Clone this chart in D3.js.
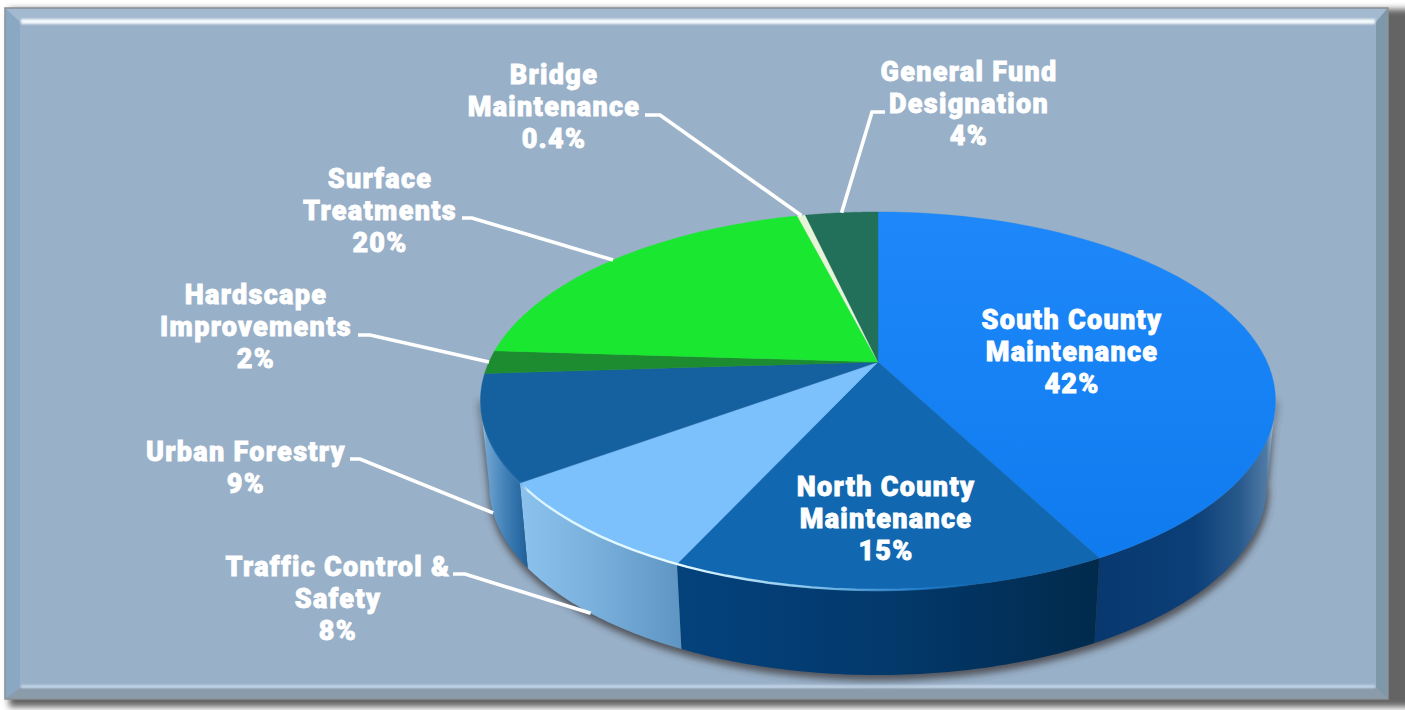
<!DOCTYPE html>
<html><head><meta charset="utf-8">
<script src="https://cdnjs.cloudflare.com/ajax/libs/d3/7.8.5/d3.min.js"></script>
<style>html,body{margin:0;padding:0;background:#fff;overflow:hidden}svg{display:block}
text{font-family:Roboto,sans-serif;font-weight:900;fill:#fff;stroke:#fff;stroke-width:.8px;font-size:27px;text-anchor:middle;letter-spacing:1.3px}</style>
</head><body><svg id="c" width="1405" height="710"></svg>
<script>
// data
const categories=["South County Maintenance","North County Maintenance","Traffic Control & Safety","Urban Forestry","Hardscape Improvements","Surface Treatments","Bridge Maintenance","General Fund Designation"];
const values=[42.3,14.6,8.1,9,2,20,0.4,3.6];
const percentLabels=["42%","15%","8%","9%","2%","20%","0.4%","4%"];
const labelLines=[["South County","Maintenance"],["North County","Maintenance"],["Traffic Control &","Safety"],["Urban Forestry"],["Hardscape","Improvements"],["Surface","Treatments"],["Bridge","Maintenance"],["General Fund","Designation"]];
const topColors=["#1583f6","#1268b0","#7cc0fc","#1561a0","#1d8c30","#1ae830","#e8f4d8","#22705a"];
const wallStops=[
 [[0,"#08386e"],[.55,"#0c3f78"],[.8,"#28598c"],[.95,"#4f7aa6"],[1,"#b9c9d8"]],
 [[0,"#04427c"],[.5,"#03396c"],[1,"#012a4c"]],
 [[0,"#8cc2ee"],[.5,"#78aeda"],[1,"#5f95c2"]],
 [[0,"#c9d6e0"],[.12,"#6fa4d0"],[.55,"#3f7fb6"],[1,"#1f5f9a"]],
 null,null,null,null];
// layout
const labelPos=[[1072,329],[886,496],[338,576],[246,461],[256,304],[380,188],[554,84],[969,81]];
const leaderStart=[null,null,[453,574,465],[350,459,360],[358,335,370],[462,218,472],[645,115,660],[885,112,872]];
const leaderOnWall=[false,false,true,true,false,false,false,false];

const svg=d3.select("#c"),defs=svg.append("defs");
const cx=878,apexY=362,S=389,B=106.3,C=-0.2063,depth=85,shrink=.978;
const top3=t=>{const u=Math.sin(t),v=-Math.cos(t),d=1+C*v;return [cx+S*u/d,(apexY+B*v)/d]};
const bot3=t=>{const p=top3(t);return [cx+(p[0]-cx)*shrink,p[1]+depth]};
const tR=Math.acos(.2063*-1),tL=2*Math.PI-tR;
const arcs=d3.pie().sort(null).startAngle(0).endAngle(2*Math.PI)(values);
const sample=(a,b,f)=>d3.range(0,61).map(i=>f(a+(b-a)*i/60));
const line=d3.line();

// frame
const addBlur=(id,sd)=>defs.append("filter").attr("id",id).attr("x","-5%").attr("y","-50%").attr("width","110%").attr("height","200%").append("feGaussianBlur").attr("stdDeviation",sd);
addBlur("blur6",3);addBlur("blur3",3.5);addBlur("blur1",1.3);
const fr=svg.append("g");
fr.append("rect").attr("x",9).attr("y",9).attr("width",1420).attr("height",698).attr("fill","#4a4a4a").attr("opacity",.85).attr("filter","url(#blur6)");
fr.append("rect").attr("x",5).attr("y",8).attr("width",1383).attr("height",691).attr("fill","#98b0c8").attr("stroke","#888e94").attr("stroke-width",1.5);
const x0=6,y0=9,x1=1387,y1=698,ix0=20,iy0=22,ix1=1376,iy1=688;
fr.append("polygon").attr("points",[[x0,y0],[x1,y0],[ix1,iy0],[ix0,iy0]].join(" ")).attr("fill","#a2b9cf");
fr.append("polygon").attr("points",[[x0,y0],[ix0,iy0],[ix0,iy1],[x0,y1]].join(" ")).attr("fill","#8aa8c3");
fr.append("polygon").attr("points",[[x1,y0],[x1,y1],[ix1,iy1],[ix1,iy0]].join(" ")).attr("fill","#7e97a9");
fr.append("polygon").attr("points",[[x0,y1],[ix0,iy1],[ix1,iy1],[x1,y1]].join(" ")).attr("fill","#8a9caa");
fr.append("rect").attr("x",21).attr("y",19).attr("width",1354).attr("height",5).attr("fill","#f4f9fc").attr("filter","url(#blur1)");
fr.append("rect").attr("x",21).attr("y",685).attr("width",1354).attr("height",3).attr("fill","#c4d6e6").attr("filter","url(#blur1)");

// shadow under pie
const pie=svg.append("g");
const front=sample(tR,tL,bot3);
pie.append("path").attr("d",line(front.map(p=>[p[0]+1,p[1]+4]).concat(sample(tL,tR,top3))))
  .attr("fill","#3a3434").attr("stroke","#3a3434").attr("stroke-width",3).attr("opacity",.75).attr("filter","url(#blur3)");

// walls
arcs.forEach((a,i)=>{
  const st=wallStops[i]; if(!st) return;
  const s=Math.max(a.startAngle,tR),e=Math.min(a.endAngle,tL); if(e<=s) return;
  const tp=sample(s,e,top3),bp=sample(e,s,bot3);
  const xs=tp.concat(bp).map(p=>p[0]);
  const id="w"+i,lg=defs.append("linearGradient").attr("id",id).attr("gradientUnits","userSpaceOnUse")
    .attr("x1",d3.min(xs)).attr("x2",d3.max(xs)).attr("y1",0).attr("y2",0);
  st.forEach(c=>lg.append("stop").attr("offset",c[0]).attr("stop-color",c[1]));
  pie.append("path").attr("d",line(tp.concat(bp))+"Z").attr("fill",`url(#${id})`);
});
// top face
const tg=defs.append("linearGradient").attr("id","topS").attr("gradientUnits","userSpaceOnUse").attr("x1",0).attr("x2",0).attr("y1",212).attr("y2",560);
tg.append("stop").attr("offset",0).attr("stop-color","#1e88fa");tg.append("stop").attr("offset",1).attr("stop-color","#0f7bee");
arcs.forEach((a,i)=>{
  pie.append("path").attr("d",line([[cx,apexY]].concat(sample(a.startAngle,a.endAngle,top3)))+"Z")
   .attr("fill",i==0?"url(#topS)":topColors[i]).attr("stroke",i==0?"#1583f6":topColors[i]).attr("stroke-width",.4);
});
// rim highlight
const rim=defs.append("linearGradient").attr("id","rim").attr("gradientUnits","userSpaceOnUse").attr("x1",480).attr("x2",1276).attr("y1",0).attr("y2",0);
[[0,"#5aa0dc",0],[.05,"#5aa0dc",.2],[.06,"#d8f4ff",1],[.25,"#e8fbff",1],[.42,"#9fdcff",.8],[.56,"#2a90e8",.55],[.62,"#2a90e8",0],[1,"#2e8fe6",0]].forEach(s=>rim.append("stop").attr("offset",s[0]).attr("stop-color",s[1]).attr("stop-opacity",s[2]));
pie.append("path").attr("d",line(sample(tR,tL,top3))).attr("fill","none").attr("stroke","url(#rim)").attr("stroke-width",2.4);

// leaders
const lead=svg.append("g");
arcs.forEach((a,i)=>{
  const ls=leaderStart[i]; if(!ls) return;
  const m=(a.startAngle+a.endAngle)/2, end=leaderOnWall[i]?bot3(m):top3(m);
  lead.append("path").attr("d",line([[ls[0],ls[1]],[ls[2],ls[1]],end])).attr("fill","none").attr("stroke","#fff").attr("stroke-width",3.6);
});
// labels
const lab=svg.append("g");
categories.forEach((c,i)=>{
  const t=lab.append("text").attr("transform",`translate(${labelPos[i]})`);
  labelLines[i].concat(percentLabels[i]).forEach((l,k)=>t.append("tspan").attr("x",0).attr("y",k*32).text(l));
});
</script></body></html>
